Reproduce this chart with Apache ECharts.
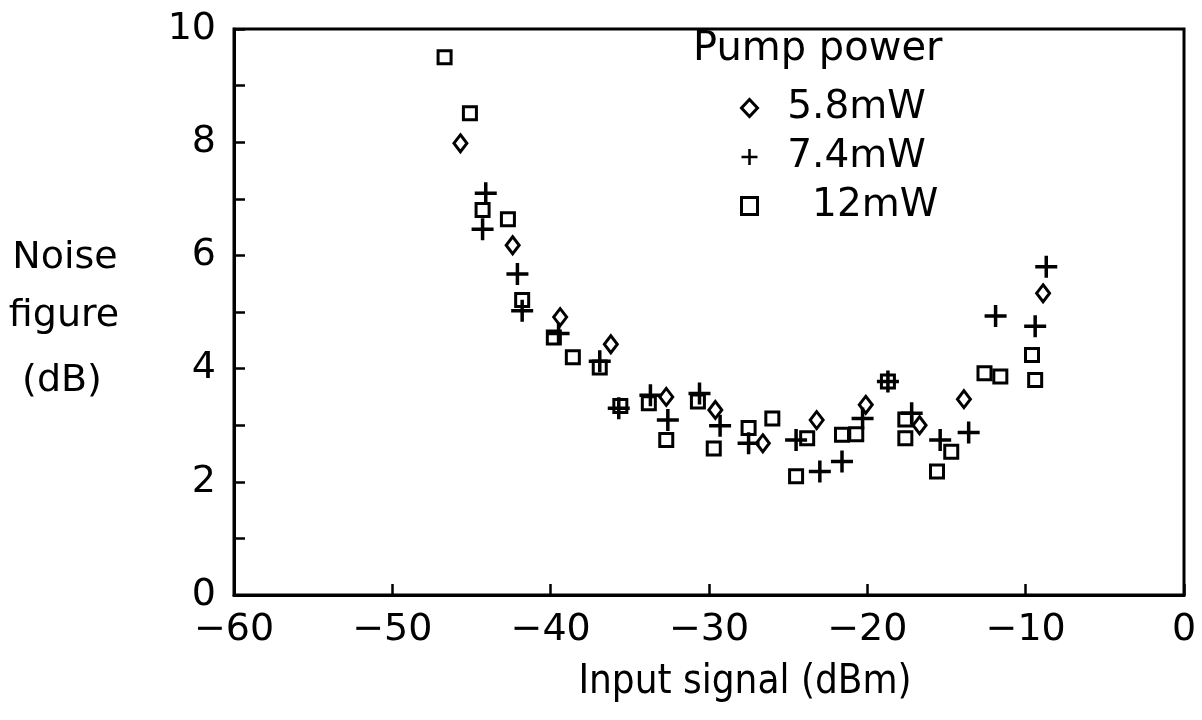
<!DOCTYPE html>
<html>
<head>
<meta charset="utf-8">
<script src="https://cdn.jsdelivr.net/npm/echarts@6/dist/echarts.min.js"></script>
<style>
html,body{margin:0;padding:0;background:#fff;}
#chart{width:1202px;height:720px;}
</style>
</head>
<body>
<div id="chart"></div>
<script>
// legend names
var seriesNames = ['5.8mW', '7.4mW', '12mW'];

// input signal (dBm), noise figure (dB)
var pump58 = [
    [-45.7, 7.98], [-42.4, 6.18], [-39.4, 4.91], [-36.2, 4.43], [-32.7, 3.50],
    [-29.6, 3.27], [-26.6, 2.68], [-23.2, 3.09], [-20.1, 3.36], [-16.7, 3.00],
    [-13.9, 3.46], [-8.9, 5.33]
];
var pump74 = [
    [-44.1, 7.10], [-44.3, 6.46], [-42.1, 5.67], [-41.8, 5.02], [-39.5, 4.62],
    [-36.9, 4.13], [-35.7, 3.30], [-33.7, 3.53], [-32.6, 3.09], [-30.6, 3.56],
    [-29.3, 2.99], [-27.5, 2.68], [-24.5, 2.74], [-23.0, 2.18], [-21.6, 2.36],
    [-20.3, 3.12], [-18.7, 3.77], [-17.2, 3.21], [-15.4, 2.74], [-13.6, 2.87],
    [-11.9, 4.93], [-9.4, 4.75], [-8.7, 5.80]
];
var pump12 = [
    [-46.7, 9.50], [-45.1, 8.51], [-44.3, 6.80], [-42.7, 6.64], [-41.8, 5.21],
    [-39.8, 4.55], [-38.6, 4.20], [-36.9, 4.02], [-35.6, 3.34], [-33.8, 3.39],
    [-32.7, 2.74], [-30.7, 3.42], [-29.7, 2.59], [-27.5, 2.95], [-26.0, 3.12],
    [-24.5, 2.10], [-23.8, 2.77], [-21.6, 2.83], [-20.7, 2.84], [-18.7, 3.77],
    [-17.6, 3.10], [-17.6, 2.77], [-15.6, 2.18], [-14.7, 2.53], [-12.6, 3.92],
    [-11.6, 3.86], [-9.6, 4.24], [-9.4, 3.80]
];

var FONT = '"DejaVu Sans", Arial, sans-serif';
// plus sign, 3.5 wide strokes in a 22 box
var plusPath = 'path://M9.25,0h3.5v9.25h9.25v3.5h-9.25v9.25h-3.5v-9.25h-9.25v-3.5h9.25z';
var hollow = {color: 'rgba(0,0,0,0)', borderColor: '#000', borderWidth: 3, opacity: 1};

var chart = echarts.init(document.getElementById('chart'));
chart.setOption({
    backgroundColor: '#fff',
    animation: false,
    grid: {left: 234, right: 18, top: 29, bottom: 125, show: true, borderColor: '#000', borderWidth: 3},
    xAxis: {
        type: 'value', min: -60, max: 0, interval: 10,
        axisLine: {onZero: false, lineStyle: {color: '#000', width: 3}},
        axisTick: {inside: true, length: 11, lineStyle: {color: '#000', width: 2.5}},
        axisLabel: {
            color: '#000', fontSize: 38, fontFamily: FONT, margin: 16,
            formatter: function(v){ return String(v).replace('-', '\u2212'); }
        },
        splitLine: {show: false}
    },
    yAxis: {
        type: 'value', min: 0, max: 10, interval: 1,
        axisLine: {onZero: false, lineStyle: {color: '#000', width: 3}},
        axisTick: {inside: true, length: 11, lineStyle: {color: '#000', width: 2.5}},
        axisLabel: {
            color: '#000', fontSize: 38, fontFamily: FONT, margin: 18,
            formatter: function(v){ return v % 2 === 0 ? String(v) : ''; }
        },
        splitLine: {show: false}
    },
    legend: {
        orient: 'vertical', left: 735, top: 83,
        itemWidth: 16, itemHeight: 17, itemGap: 9,
        itemStyle: {borderWidth: 3},
        textStyle: {color: '#000', fontSize: 39, fontFamily: FONT, lineHeight: 40},
        formatter: function(name){ return name === '12mW' ? '    ' + name : '  ' + name; },
        data: seriesNames
    },
    graphic: [
        {type: 'text', left: 693, top: 30, style: {text: 'Pump power', fontSize: 40, fontFamily: FONT, fill: '#000'}},
        {type: 'text', x: 65, y: 258, style: {text: 'Noise', fontSize: 38, fontFamily: FONT, fill: '#000', align: 'center', verticalAlign: 'middle'}},
        {type: 'text', x: 64, y: 316, style: {text: 'figure', fontSize: 38, fontFamily: FONT, fill: '#000', align: 'center', verticalAlign: 'middle'}},
        {type: 'text', x: 62, y: 381, style: {text: '(dB)', fontSize: 38, fontFamily: FONT, fill: '#000', align: 'center', verticalAlign: 'middle'}},
        {type: 'text', x: 745, y: 683, style: {text: 'Input signal (dBm)', fontSize: 40, fontFamily: '"DejaVu Sans Condensed", ' + FONT, fill: '#000', align: 'center', verticalAlign: 'middle'}}
    ],
    series: [
        {name: seriesNames[0], type: 'scatter', symbol: 'diamond', symbolSize: [13, 17], itemStyle: hollow, data: pump58},
        {name: seriesNames[1], type: 'scatter', symbol: plusPath, symbolSize: 22, itemStyle: {color: '#000', opacity: 1}, data: pump74},
        {name: seriesNames[2], type: 'scatter', symbol: 'rect', symbolSize: 13, itemStyle: hollow, data: pump12}
    ]
});
</script>
</body>
</html>
